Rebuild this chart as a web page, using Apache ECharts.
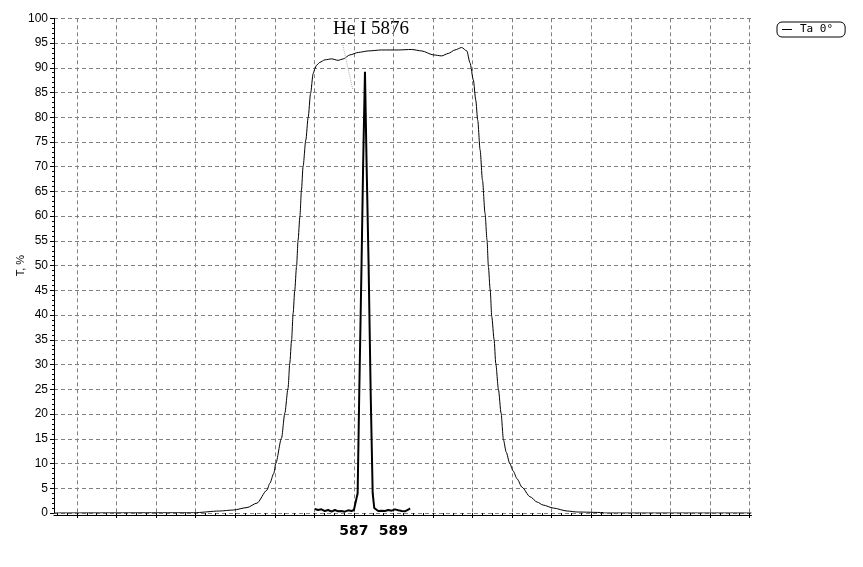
<!DOCTYPE html>
<html>
<head>
<meta charset="utf-8">
<script src="https://cdn.jsdelivr.net/npm/echarts@6/dist/echarts.min.js"></script>
<style>
  html, body { margin: 0; padding: 0; background: #fff; }
  #chart { width: 863px; height: 567px; }
</style>
</head>
<body>
<div id="chart"></div>
<script>
// wavelength range of the plot, nm
var xMin = 571.84;
var xMax = 607.1;

// broad filter curve (Ta 0°): wavelength, nm / transmission, %
var filterWl = [571.84, 578.9, 580.2, 580.9, 581.6, 582.1, 582.6, 582.75, 582.95, 583.05,
    583.34, 583.51, 583.67, 583.76, 583.85, 583.93, 584.01, 584.10, 584.18, 584.27,
    584.35, 584.43, 584.57, 584.69, 584.81, 584.94, 585.03, 585.11, 585.28, 585.53,
    585.87, 586.21, 586.46, 586.80, 587.22, 587.72, 588.40, 589.24, 589.92, 590.43,
    591.02, 591.44, 591.77, 592.11, 592.45, 592.71, 592.87, 593.04, 593.16, 593.26,
    593.38, 593.50, 593.63, 593.73, 593.80, 593.89, 593.97, 594.09, 594.17, 594.31,
    594.44, 594.56, 594.70, 594.88, 595.05, 595.25, 595.50, 595.90, 596.27, 596.57,
    597.08, 597.78, 598.29, 599.6, 599.65, 607.1];
var filterT = [0, 0.05, 0.4, 0.6, 1.1, 2.0, 4.6, 6.0, 8.0, 10,
    15.1, 20.2, 25.2, 30.3, 35, 40.4, 45, 49.8, 55.2, 59.9,
    65.3, 70, 75.4, 80, 84.8, 88.8, 89.8, 90.5, 91.1, 91.6,
    91.8, 91.5, 91.8, 92.6, 93.1, 93.4, 93.6, 93.6, 93.7, 93.4,
    92.6, 92.4, 92.9, 93.6, 94.1, 93.4, 91.0, 87.5, 83.5, 79.4,
    73.4, 67.3, 60.6, 55.2, 49.8, 45.1, 39.7, 35.0, 30.3, 24.9,
    20.2, 14.8, 12.3, 10.0, 8.5, 6.9, 5.2, 3.3, 2.2, 1.6,
    1.0, 0.4, 0.2, 0.1, 0, 0];

// narrow He I 5876 line
var lineWl = [585.03, 585.19, 585.36, 585.53, 585.70, 585.87, 586.04, 586.21, 586.38, 586.54,
    586.71, 586.88, 587.0, 587.10, 587.19, 587.27, 587.39, 587.47, 587.56, 587.64,
    587.74, 587.85, 587.95, 588.03, 588.06, 588.23, 588.40, 588.57, 588.74, 588.91,
    589.08, 589.24, 589.42, 589.58, 589.75, 589.84];
var lineT = [0.81, 0.61, 0.74, 0.40, 0.61, 0.27, 0.61, 0.34, 0.40, 0.27,
    0.54, 0.40, 0.61, 1.0, 4, 24, 51, 71, 89.2, 71,
    51, 24, 4, 1.0, 0.61, 0.40, 0.47, 0.40, 0.61, 0.47,
    0.74, 0.54, 0.40, 0.34, 0.67, 0.94];

var xLabels = [587, 589];
var legendName = 'Ta 0°';
var lineName = 'He I 5876';

function zip(a, b) {
    var out = [];
    for (var i = 0; i < a.length; i++) out.push([a[i], b[i]]);
    return out;
}

// grid lines every 2 nm, small ticks every 0.5 nm
var majorTicks = [];
for (var v = 573; v <= 607; v += 2) majorTicks.push(v);
var minorTicks = [];
for (var m = 572; m <= 607; m += 0.5) minorTicks.push(m);

var myChart = echarts.init(document.getElementById('chart'));

var gridDash = { type: [4, 3], color: '#808080', width: 1 };

var option = {
    animation: false,
    backgroundColor: '#fff',
    textStyle: { fontFamily: 'Liberation Sans' },
    grid: { left: 54, right: 111.5, top: 18.3, bottom: 54 },
    legend: {
        data: [legendName],
        left: 777,
        top: 22,
        padding: [2, 12, 2, 5],
        borderColor: '#000',
        borderWidth: 1,
        borderRadius: 5,
        icon: 'rect',
        itemWidth: 10,
        itemHeight: 1,
        textStyle: { fontFamily: 'DejaVu Sans Mono', fontSize: 11, color: '#000', padding: [0, 0, 0, 3] }
    },
    xAxis: [
        {
            type: 'value',
            min: xMin,
            max: xMax,
            position: 'bottom',
            offset: 2,
            axisLine: { show: true, onZero: false, lineStyle: { color: '#000', width: 1 } },
            axisTick: { show: true, customValues: majorTicks, length: 3, lineStyle: { color: '#000' } },
            axisLabel: {
                customValues: xLabels,
                margin: 9,
                fontFamily: 'DejaVu Sans',
                fontWeight: 'bold',
                fontSize: 14,
                color: '#000'
            },
            splitLine: { show: true, lineStyle: gridDash }
        },
        {
            type: 'value',
            min: xMin,
            max: xMax,
            position: 'bottom',
            offset: 2,
            axisLine: { show: false },
            axisTick: { show: true, customValues: minorTicks, length: 3, lineStyle: { color: '#000' } },
            axisLabel: { show: false },
            splitLine: { show: false }
        }
    ],
    yAxis: {
        type: 'value',
        min: 0,
        max: 100,
        interval: 5,
        name: 'T, %',
        nameLocation: 'middle',
        nameGap: 28,
        nameMoveOverlap: false,
        nameTextStyle: { fontSize: 11, color: '#000', fontFamily: 'Liberation Sans' },
        axisLine: { show: true, lineStyle: { color: '#000', width: 1 } },
        axisTick: { show: true, length: 4, lineStyle: { color: '#000' } },
        minorTick: { show: true, splitNumber: 5, length: 2, lineStyle: { color: '#000' } },
        axisLabel: { margin: 6, fontSize: 12, color: '#000', fontFamily: 'Liberation Sans' },
        splitLine: { show: true, lineStyle: gridDash }
    },
    graphic: [
        {
            type: 'text',
            left: 333,
            top: 20,
            style: {
                text: lineName,
                font: '19px "Liberation Serif"',
                fill: '#000'
            }
        }
    ],
    series: [
        {
            name: legendName,
            type: 'line',
            xAxisIndex: 0,
            data: zip(filterWl, filterT),
            symbol: 'none',
            smooth: 0.25,
            smoothMonotone: 'x',
            lineStyle: { color: '#000', width: 1 },
            itemStyle: { color: '#000' },
            silent: true
        },
        {
            name: lineName,
            type: 'line',
            xAxisIndex: 0,
            data: zip(lineWl, lineT),
            symbol: 'none',
            lineStyle: { color: '#000', width: 2 },
            itemStyle: { color: '#000' },
            silent: true,
            markLine: {
                silent: true,
                symbol: ['none', 'none'],
                label: { show: false },
                lineStyle: { type: 'dotted', color: '#b0b0b0', width: 1 },
                data: [[{ coord: [586.44, 94.6] }, { coord: [586.95, 85.5] }]]
            }
        }
    ]
};

myChart.setOption(option);
</script>
</body>
</html>
